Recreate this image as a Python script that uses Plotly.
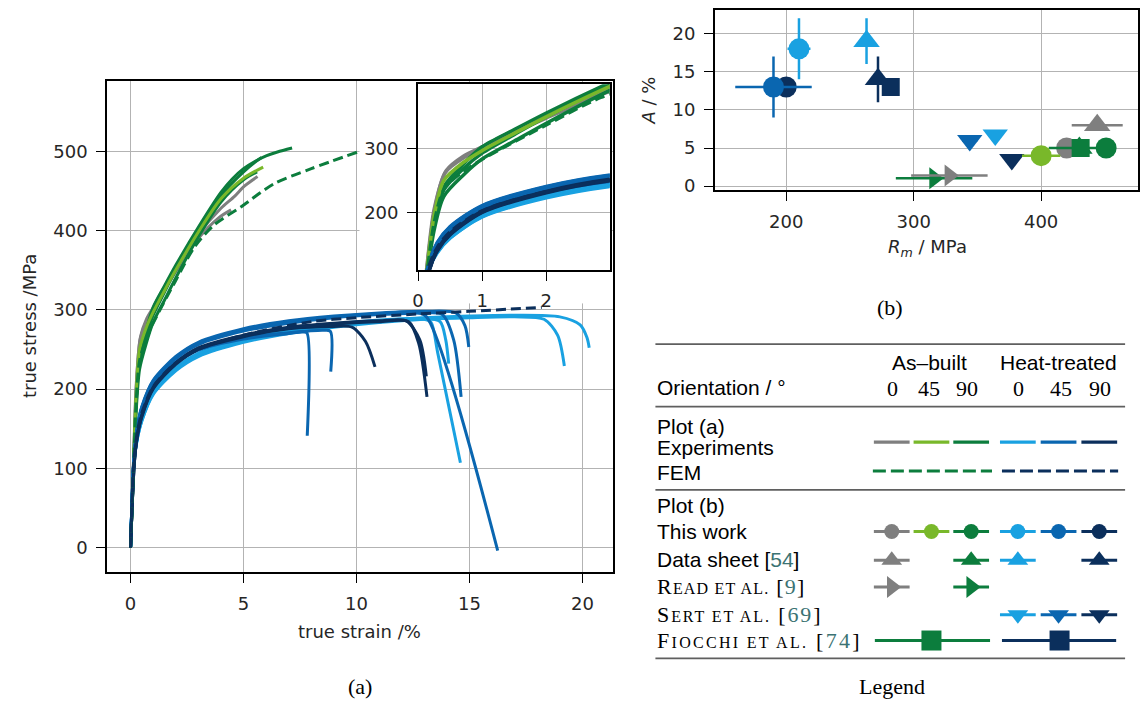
import plotly.graph_objects as go

W, H = 1140, 708
TICKFONT = 'DejaVu Sans'
SANS = 'Liberation Sans'
SERIF = 'Liberation Serif'
TXT = '#262626'
CITE = '#3b7373'

C_GRAY, C_LGREEN, C_GREEN = '#7f7f7f', '#79b82a', '#0c7d3d'
C_LBLUE, C_MBLUE, C_DBLUE = '#19a1e1', '#0a66b0', '#0b2f5c'

# ---------------- Plot (a): true strain (%) vs true stress (MPa) ----------------
# as-built experiments
gray1_strain = [0, 0.12, 0.25, 0.44, 0.7, 1, 1.5, 2, 3, 4, 4.6, 5, 5.62]
gray1_stress = [0, 100, 205, 266, 288, 303, 329, 352, 395, 428, 443, 455, 468]
gray2_strain = [0, 0.12, 0.25, 0.42, 0.7, 1, 1.5, 2, 3, 3.9, 4.45]
gray2_stress = [0, 98, 200, 262, 285, 300, 325, 348, 390, 416, 426]
lgreen1_strain = [0, 0.12, 0.25, 0.4, 0.7, 1, 1.5, 2, 3, 4, 5, 5.87]
lgreen1_stress = [0, 95, 195, 250, 278, 297, 324, 350, 398, 440, 466, 480]
green1_strain = [0, 0.12, 0.25, 0.4, 0.7, 1, 1.5, 2, 3, 4, 4.5, 5, 5.5, 6, 6.5, 7.15]
green1_stress = [0, 92, 185, 240, 275, 303, 330, 356, 404, 448, 465, 478, 487, 494, 499, 504]
green2_strain = [0, 0.12, 0.25, 0.4, 0.7, 1, 1.5, 2, 3, 4, 5, 5.5, 5.8]
green2_stress = [0, 90, 180, 235, 268, 293, 322, 350, 400, 444, 474, 486, 492]
green3_strain = [0, 0.12, 0.25, 0.4, 0.7, 1, 1.5, 2, 3, 4, 5, 5.6]
green3_stress = [0, 88, 172, 225, 258, 284, 312, 340, 392, 436, 464, 474]
# as-built FEM
fem_ab_strain = [0, 0.12, 0.25, 0.4, 0.7, 1, 2, 2.85, 3.7, 4.9, 6.35, 8, 10.05]
fem_ab_stress = [0, 92, 185, 236, 264, 283, 337, 380, 407, 430, 459, 478, 499]

# heat-treated experiments
lb1_strain = [0, 0.16, 0.3, 0.5, 1, 2, 3, 5, 7, 9, 11, 13, 13.3, 13.6, 14.6]
lb1_stress = [0, 110, 138, 160, 194, 224, 242, 260, 271, 279, 285, 288, 284, 245, 107]
lb2_strain = [0, 0.16, 0.3, 0.5, 1, 2, 3, 5, 7, 9, 11, 13, 13.7, 13.95, 14.08]
lb2_stress = [0, 110, 139, 162, 196, 226, 244, 262, 273, 281, 286, 289, 285, 262, 232]
lb3_strain = [0, 0.16, 0.3, 0.5, 1, 2, 3, 5, 7, 9, 11, 13, 15, 17, 18.3, 18.9, 19.2]
lb3_stress = [0, 109, 137, 160, 193, 223, 241, 259, 270, 278, 284, 288, 290, 291, 288, 268, 229]
lb4_strain = [0, 0.16, 0.3, 0.5, 1, 2, 3, 5, 7, 9, 11, 13, 15, 17, 19, 19.9, 20.2, 20.3]
lb4_stress = [0, 110, 139, 163, 197, 227, 245, 263, 274, 282, 287, 290, 292, 293, 291, 281, 265, 252]
mb1_strain = [0, 0.15, 0.3, 0.5, 1, 2, 3, 5, 7, 7.6, 7.8, 7.82]
mb1_stress = [0, 112, 148, 172, 203, 232, 249, 263, 270, 272, 271, 141]
mb2_strain = [0, 0.15, 0.3, 0.5, 1, 2, 3, 5, 7, 8.5, 8.84, 8.86]
mb2_stress = [0, 112, 149, 173, 204, 234, 251, 265, 271, 274, 273, 222]
mb3_strain = [0, 0.15, 0.3, 0.5, 1, 2, 3, 5, 7, 9, 11, 12.6, 13.1, 16.25]
mb3_stress = [0, 113, 152, 177, 210, 240, 258, 275, 285, 291, 295, 297, 291, -4]
mb4_strain = [0, 0.15, 0.3, 0.5, 1, 2, 3, 5, 7, 9, 11, 13, 13.8, 14.3, 14.63]
mb4_stress = [0, 112, 151, 176, 208, 238, 256, 273, 283, 290, 294, 296, 294, 262, 190]
mb5_strain = [0, 0.15, 0.3, 0.5, 1, 2, 3, 5, 7, 9, 11, 13, 14.4, 14.8, 14.97]
mb5_stress = [0, 113, 153, 178, 211, 241, 259, 276, 286, 292, 296, 298, 296, 280, 253]
db1_strain = [0, 0.17, 0.3, 0.5, 1, 2, 3, 5, 7, 9, 9.8, 10.4, 10.82]
db1_stress = [0, 108, 140, 165, 200, 231, 250, 266, 276, 279, 278, 260, 228]
db2_strain = [0, 0.17, 0.3, 0.5, 1, 2, 3, 5, 7, 9, 11, 12.2, 12.8, 13.09]
db2_stress = [0, 108, 142, 167, 202, 233, 252, 268, 278, 283, 286, 286, 262, 216]
db3_strain = [0, 0.17, 0.3, 0.5, 1, 2, 3, 5, 7, 9, 11, 12.3, 12.75, 13.12]
db3_stress = [0, 107, 141, 166, 201, 232, 251, 267, 277, 282, 285, 285, 258, 190]
# heat-treated FEM
fem_ht_strain = [0, 0.15, 0.3, 0.5, 1, 2, 3, 5, 8, 10, 12.65, 15, 18.2]
fem_ht_stress = [0, 110, 146, 170, 203, 233, 250, 268, 285, 290, 294.5, 298, 303]

exp_curves = [
    (gray1_strain, gray1_stress, C_GRAY), (gray2_strain, gray2_stress, C_GRAY),
    (green3_strain, green3_stress, C_GREEN), (green2_strain, green2_stress, C_GREEN),
    (green1_strain, green1_stress, C_GREEN), (lgreen1_strain, lgreen1_stress, C_LGREEN),
    (lb1_strain, lb1_stress, C_LBLUE), (lb2_strain, lb2_stress, C_LBLUE),
    (lb3_strain, lb3_stress, C_LBLUE), (lb4_strain, lb4_stress, C_LBLUE),
    (mb1_strain, mb1_stress, C_MBLUE), (mb2_strain, mb2_stress, C_MBLUE),
    (mb3_strain, mb3_stress, C_MBLUE), (mb4_strain, mb4_stress, C_MBLUE),
    (mb5_strain, mb5_stress, C_MBLUE),
    (db1_strain, db1_stress, C_DBLUE), (db2_strain, db2_stress, C_DBLUE),
    (db3_strain, db3_stress, C_DBLUE),
]
fem_curves = [(fem_ab_strain, fem_ab_stress, C_GREEN), (fem_ht_strain, fem_ht_stress, C_DBLUE)]

# ---------------- Plot (b): R_m (MPa) vs A (%) ----------------
pb_rm     = [316, 328, 344, 364, 377, 430, 420, 431, 451, 400, 444, 200, 190, 210, 263, 272, 282]
pb_A      = [1.05, 1.4, 6.0, 6.7, 3.5, 5.0, 5.0, 5.0, 5.0, 4.0, 8.0, 13.0, 13.0, 18.0, 19.0, 14.0, 13.0]
pb_rm_err = [30, 30, 6, 0, 0, 0, 0, 25, 0, 15, 20, 0, 30, 9, 0, 0, 0]
pb_A_err  = [0, 0, 0, 0, 0, 0, 0, 0, 0, 0, 0, 0, 4, 4, 3, 3, 0]
pb_color  = [C_GREEN, C_GRAY, C_MBLUE, C_LBLUE, C_DBLUE, C_GREEN, C_GRAY, C_GREEN, C_GREEN,
             C_LGREEN, C_GRAY, C_DBLUE, C_MBLUE, C_LBLUE, C_LBLUE, C_DBLUE, C_DBLUE]
pb_symbol = ['triangle-right', 'triangle-right', 'triangle-down', 'triangle-down', 'triangle-down',
             'triangle-up', 'circle', 'square', 'circle', 'circle', 'triangle-up', 'circle',
             'circle', 'circle', 'triangle-up', 'triangle-up', 'square']
symbol_size = {'circle': 21, 'square': 18, 'triangle-up': 23, 'triangle-down': 22, 'triangle-right': 19}

# ---------------- Legend table content ----------------
cond_cols = [892, 932, 972, 1019, 1060, 1101]        # column centres (px)
cond_colors = [C_GRAY, C_LGREEN, C_GREEN, C_LBLUE, C_MBLUE, C_DBLUE]
orient_labels = ['0', '45', '90', '0', '45', '90']
orient_x = [893, 930, 968, 1020, 1062, 1102]

fig = go.Figure()
line_kw = dict(shape='spline', smoothing=0.8)

# main plot
for xs, ys, c in exp_curves:
    fig.add_trace(go.Scatter(x=xs, y=ys, mode='lines', line=dict(color=c, width=3, **line_kw),
                             xaxis='x', yaxis='y', showlegend=False, hoverinfo='skip'))
for xs, ys, c in fem_curves:
    fig.add_trace(go.Scatter(x=xs, y=ys, mode='lines',
                             line=dict(color=c, width=3, dash='10px,5px', **line_kw),
                             xaxis='x', yaxis='y', showlegend=False, hoverinfo='skip'))
# white cover behind the inset
fig.add_trace(go.Scatter(x=[None], y=[None], xaxis='x2', yaxis='y2', showlegend=False, hoverinfo='skip'))
# inset
for xs, ys, c in exp_curves:
    fig.add_trace(go.Scatter(x=xs, y=ys, mode='lines', line=dict(color=c, width=3.5, **line_kw),
                             xaxis='x3', yaxis='y3', showlegend=False, hoverinfo='skip'))
for xs, ys, c in fem_curves:
    fig.add_trace(go.Scatter(x=xs, y=ys, mode='lines',
                             line=dict(color=c, width=3, dash='10px,5px', **line_kw),
                             xaxis='x3', yaxis='y3', showlegend=False, hoverinfo='skip'))
# plot (b)
for i in range(len(pb_rm)):
    fig.add_trace(go.Scatter(
        x=[pb_rm[i]], y=[pb_A[i]], mode='markers', xaxis='x4', yaxis='y4',
        marker=dict(symbol=pb_symbol[i], size=symbol_size[pb_symbol[i]], color=pb_color[i],
                    opacity=1, line=dict(width=0)),
        error_x=dict(type='data', array=[pb_rm_err[i]], visible=pb_rm_err[i] > 0, color=pb_color[i], thickness=2.5, width=0),
        error_y=dict(type='data', array=[pb_A_err[i]], visible=pb_A_err[i] > 0, color=pb_color[i], thickness=2.5, width=0),
        showlegend=False, hoverinfo='skip'))

# legend table glyphs (table axes in pixel units)
HALF = 18
def glyph(cx, cy, color, symbol=None, msize=0, x0=None, x1=None, dash=None, width=3):
    x0 = cx - HALF if x0 is None else x0
    x1 = cx + HALF if x1 is None else x1
    fig.add_trace(go.Scatter(
        x=[x0, x1], y=[cy, cy], mode='lines',
        line=dict(color=color, width=width, dash=dash),
        xaxis='x5', yaxis='y5', showlegend=False, hoverinfo='skip'))
    if symbol:
        fig.add_trace(go.Scatter(
            x=[cx], y=[cy], mode='markers',
            marker=dict(symbol=symbol, size=msize, color=color, opacity=1, line=dict(width=0)),
            xaxis='x5', yaxis='y5', showlegend=False, hoverinfo='skip'))

for cx, c in zip(cond_cols, cond_colors):
    glyph(cx, 446, c, width=3.2)
glyph(933, 475, C_GREEN, x0=873, x1=993, dash='13px,5px')
glyph(1061, 475, C_DBLUE, x0=1003, x1=1120, dash='13px,5px')
for cx, c in zip(cond_cols, cond_colors):
    glyph(cx, 536, c, 'circle', 15)
for k in (0, 2, 3, 5):
    glyph(cond_cols[k], 565, cond_colors[k], 'triangle-up', 18)
for k in (0, 2):
    glyph(cond_cols[k], 592, cond_colors[k], 'triangle-right', 19)
for k in (3, 4, 5):
    glyph(cond_cols[k], 620, cond_colors[k], 'triangle-down', 18)
glyph(932, 646, C_GREEN, 'square', 20, x0=875, x1=991)
glyph(1061, 646, C_DBLUE, 'square', 20, x0=1003, x1=1118)

# ---------------- axes ----------------
ax = dict(showgrid=True, gridcolor='#b3b3b3', gridwidth=1.3, showline=True, linecolor='black',
          linewidth=2, mirror=True, ticks='outside', ticklen=9, tickwidth=1.4, tickcolor='black',
          ticklabelstandoff=5,
          tickfont=dict(family=TICKFONT, size=18, color=TXT), zeroline=False)
hidden = dict(visible=False, showgrid=False, zeroline=False, fixedrange=True)

fig.update_layout(
    width=W, height=H, margin=dict(l=0, r=0, t=0, b=0),
    paper_bgcolor='white', plot_bgcolor='white', showlegend=False,
    xaxis=dict(domain=[102/W, 611/W], range=[-1.03, 21.34], tickvals=[0, 5, 10, 15, 20], anchor='y', **ax),
    yaxis=dict(domain=[1-577/H, 1-82/H], range=[-31, 588.2], tickvals=[0, 100, 200, 300, 400, 500], anchor='x', **ax),
    xaxis2=dict(domain=[356/W, 609/W], range=[0, 1], anchor='y2', **hidden),
    yaxis2=dict(domain=[1-306/H, 1-84/H], range=[0, 1], anchor='x2', **hidden),
    xaxis3=dict(domain=[415/W, 608/W], range=[0, 2.99], tickvals=[0, 1, 2], anchor='y3', **ax),
    yaxis3=dict(domain=[1-272/H, 1-85/H], range=[110.3, 401], tickvals=[200, 300], anchor='x3', **ax),
    xaxis4=dict(domain=[714/W, 1.0], range=[144.1, 476], tickvals=[200, 300, 400], anchor='y4', **ax),
    yaxis4=dict(domain=[1-192/H, 1-10/H], range=[-0.55, 23.1], tickvals=[0, 5, 10, 15, 20], anchor='x4', **ax),
    xaxis5=dict(domain=[640/W, 1.0], range=[640, 1140], anchor='y5', **hidden),
    yaxis5=dict(domain=[0, 1-335/H], range=[708, 335], anchor='x5', **hidden),
)

# ---------------- text ----------------
ann = []
def paper_text(text, x, y, size=18, family=TICKFONT, angle=0, color=TXT, xanchor='center'):
    ann.append(dict(text=text, x=x/W, y=1-y/H, xref='paper', yref='paper', showarrow=False,
                    xanchor=xanchor, yanchor='middle', textangle=angle,
                    font=dict(family=family, size=size, color=color)))
def tbl_text(text, x, y, size=21, family=SANS, xanchor='left', color='black'):
    ann.append(dict(text=text, x=x, y=y, xref='x5', yref='y5', showarrow=False,
                    xanchor=xanchor, yanchor='middle', font=dict(family=family, size=size, color=color)))

paper_text('true stress /MPa', 23, 329, angle=-90)
paper_text('true strain /%', 356, 637)
paper_text('<i>A</i> / %', 647, 101, angle=-90)
paper_text('<i>R</i><sub><i>m</i></sub> / MPa', 928, 250)
paper_text('(a)', 356, 692, size=22, family=SERIF, color='black')
paper_text('(b)', 890, 310, size=22, family=SERIF, color='black')

tbl_text('As–built', 930, 366, xanchor='center')
tbl_text('Heat-treated', 1060, 366, xanchor='center')
tbl_text('Orientation / °', 654, 391)
for lab, xx in zip(orient_labels, orient_x):
    tbl_text(lab, xx, 392, size=22, family=SERIF, xanchor='center')
tbl_text('Plot (a)', 654, 430)
tbl_text('Experiments', 654, 451)
tbl_text('FEM', 654, 477)
tbl_text('Plot (b)', 654, 510)
tbl_text('This work', 654, 536)
tbl_text(f"Data sheet [<span style='color:{CITE}'>54</span>]", 654, 564)

def smallcaps(first, rest, ref, ls_px):
    ls = f'letter-spacing:{ls_px}px'
    return (f"<span style='{ls}'>{first}</span><span style='font-size:16px;{ls}'>{rest}</span>"
            f"<span style='{ls}'> [</span><span style='color:{CITE};{ls}'>{ref}</span>]")
tbl_text(smallcaps('R', 'EAD ET AL.', '9', 1.2), 654, 592, size=22, family=SERIF)
tbl_text(smallcaps('S', 'ERT ET AL.', '69', 1.9), 654, 620, size=22, family=SERIF)
tbl_text(smallcaps('F', 'IOCCHI ET AL.', '74', 2.3), 654, 646, size=22, family=SERIF)
tbl_text('Legend', 892, 692, size=22, family=SERIF, xanchor='center')

shapes = []
for yy in (347, 410, 494, 664):
    shapes.append(dict(type='line', xref='paper', yref='paper', x0=654/W, x1=1127/W,
                       y0=1-yy/H, y1=1-yy/H, line=dict(color='#5f5f5f', width=1.8)))

fig.update_layout(annotations=ann, shapes=shapes)
fig.write_html('out.html')
